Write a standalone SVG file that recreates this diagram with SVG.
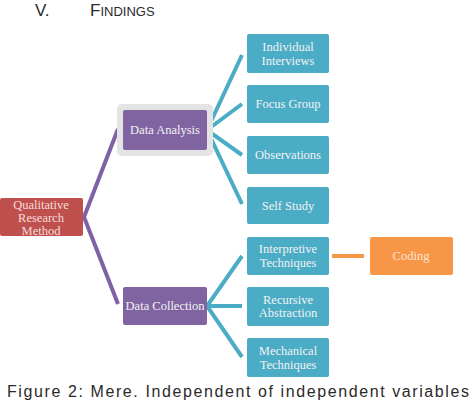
<svg xmlns="http://www.w3.org/2000/svg" width="474" height="402" viewBox="0 0 474 402">
<style>
.t{font-family:"Liberation Serif","DejaVu Serif",serif;font-size:12.5px;text-anchor:middle;fill:#f2f2f2}
.blue{fill:#4bacc6}
.cb{stroke:#4bacc6;stroke-width:4;fill:none;stroke-linecap:butt}
.cp{stroke:#7f62a6;stroke-width:4;fill:none}
.head{font-family:"Liberation Sans",Arial,sans-serif;fill:#2a2a2a}
</style>
<rect width="474" height="402" fill="#ffffff"/>
<g id="title">
<text class="head" x="35" y="16" font-size="17">V.</text>
<text class="head" x="90" y="16" font-size="17">F<tspan font-size="13">INDINGS</tspan></text>
</g>
<g id="connectors">
<polyline class="cp" points="118,129 84,217 118,304"/>
<polyline class="cb" points="242,55 207,130 242,104"/>
<polyline class="cb" points="242,155 207,130 242,204"/>
<polyline class="cb" points="242,256 207,306 242,357"/>
<line class="cb" x1="207" y1="306" x2="242" y2="306"/>
<line x1="332" y1="256" x2="364" y2="256" stroke="#f79646" stroke-width="4"/>
</g>
<g id="qualitative">
<rect x="0" y="198" width="83" height="38" rx="2" fill="#c0504d"/>
<text class="t" x="41" y="209" style="fill:#f5dcdb">Qualitative</text>
<text class="t" x="41" y="222" style="fill:#f5dcdb">Research</text>
<text class="t" x="41" y="235" style="fill:#f5dcdb">Method</text>
</g>
<g id="data-analysis">
<rect x="117" y="104" width="96" height="52" rx="5" fill="#e4e4e4"/>
<rect x="123" y="110" width="84" height="40" rx="2" fill="#8064a2"/>
<text class="t" x="165" y="134">Data Analysis</text>
</g>
<g id="data-collection">
<rect x="123" y="287" width="84" height="38" rx="2" fill="#8064a2"/>
<text class="t" x="165" y="310">Data Collection</text>
</g>
<g id="individual-interviews">
<rect class="blue" x="247" y="34" width="82" height="39" rx="2"/>
<text class="t" x="288" y="51">Individual</text>
<text class="t" x="288" y="65">Interviews</text>
</g>
<g id="focus-group">
<rect class="blue" x="247" y="85" width="82" height="38" rx="2"/>
<text class="t" x="288" y="108">Focus Group</text>
</g>
<g id="observations">
<rect class="blue" x="247" y="136" width="82" height="38" rx="2"/>
<text class="t" x="288" y="159">Observations</text>
</g>
<g id="self-study">
<rect class="blue" x="247" y="187" width="82" height="37" rx="2"/>
<text class="t" x="288" y="210">Self Study</text>
</g>
<g id="interpretive-techniques">
<rect class="blue" x="247" y="237" width="82" height="38" rx="2"/>
<text class="t" x="288" y="253">Interpretive</text>
<text class="t" x="288" y="267">Techniques</text>
</g>
<g id="recursive-abstraction">
<rect class="blue" x="247" y="287" width="82" height="39" rx="2"/>
<text class="t" x="288" y="304">Recursive</text>
<text class="t" x="288" y="317">Abstraction</text>
</g>
<g id="mechanical-techniques">
<rect class="blue" x="247" y="338" width="82" height="39" rx="2"/>
<text class="t" x="288" y="355">Mechanical</text>
<text class="t" x="288" y="369">Techniques</text>
</g>
<g id="coding">
<rect x="370" y="237" width="83" height="38" rx="2" fill="#f79646"/>
<text class="t" x="411" y="260" style="fill:#fbe4d5">Coding</text>
</g>
<g id="caption">
<text class="head" x="7" y="397" font-size="16" textLength="462" lengthAdjust="spacing">Figure 2: Mere. Independent of independent variables</text>
</g>
</svg>
